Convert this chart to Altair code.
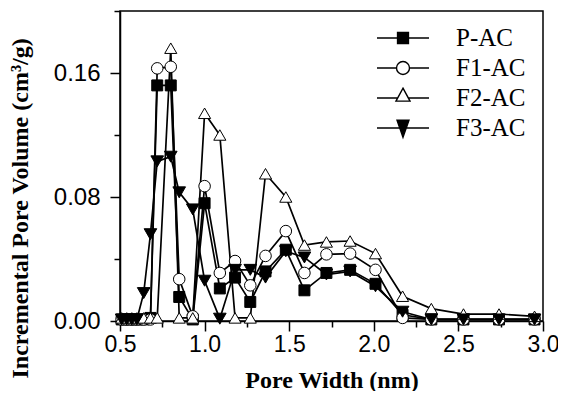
import altair as alt
import pandas as pd

# ---- data ----
pore_width = [0.51, 0.54, 0.57, 0.60, 0.64, 0.68, 0.72, 0.80, 0.85, 0.93, 1.00, 1.09,
              1.18, 1.27, 1.36, 1.48, 1.59, 1.72, 1.86, 2.01, 2.17, 2.34, 2.53, 2.74, 2.95]

p_ac = [0.001, 0.001, 0.001, 0.001, 0.001, 0.002, 0.152, 0.152, 0.0155, 0.001, 0.076, 0.021,
        0.028, 0.0123, 0.032, 0.046, 0.0198, 0.031, 0.033, 0.024, 0.004, 0.001, 0.001, 0.001, 0.001]
f1_ac = [0.001, 0.001, 0.001, 0.001, 0.001, 0.001, 0.163, 0.164, 0.027, 0.003, 0.087, 0.031,
         0.0387, 0.023, 0.042, 0.058, 0.031, 0.043, 0.0435, 0.033, 0.002, 0.001, 0.001, 0.001, 0.001]
f2_ac = [0.002, 0.002, 0.002, 0.002, 0.002, 0.002, 0.002, 0.176, 0.002, 0.002, 0.134, 0.120,
         0.002, 0.002, 0.095, 0.080, 0.049, 0.051, 0.0516, 0.0435, 0.016, 0.008, 0.0045, 0.0045, 0.003]
f3_ac = [0.001, 0.001, 0.001, 0.001, 0.018, 0.056, 0.103, 0.106, 0.083, 0.072, 0.026, 0.0015,
         0.033, 0.033, 0.028, 0.045, 0.041, 0.030, 0.032, 0.0224, 0.006, 0.001, 0.001, 0.001, 0.001]

series_names = ["P-AC", "F1-AC", "F2-AC", "F3-AC"]
x_ticks = [0.5, 0.75, 1.0, 1.25, 1.5, 1.75, 2.0, 2.25, 2.5, 2.75, 3.0]
y_ticks = [0.0, 0.04, 0.08, 0.12, 0.16, 0.2]

rows = []
for name, vals in zip(series_names, [p_ac, f1_ac, f2_ac, f3_ac]):
    for i, (xv, yv) in enumerate(zip(pore_width, vals)):
        rows.append({"series": name, "width": xv, "volume": yv, "order": i})
df = pd.DataFrame(rows)

serif = "Liberation Serif"
sans = "Liberation Sans"

plot_shapes = ["square", "circle", "triangle-up", "triangle-down"]
marker_sizes = [120, 160, 200, 170]
fills = ["black", "white", "white", "black"]
strokes = ["black", "black", "black", "black"]
legend_shapes = [
    "M-1,0H-0.21M0.21,0H1M-0.21,-0.21H0.21V0.21H-0.21Z",
    "M-1,0H-0.25M0.25,0H1M-0.25,0A0.25,0.25,0,1,1,0.25,0A0.25,0.25,0,1,1,-0.25,0Z",
    "M-1,0H-0.205M0.205,0H1M0,-0.38L0.27,0.12L-0.27,0.12Z",
    "M-1,0H1M0,0.36L0.23,-0.3L-0.23,-0.3Z",
]

x_axis = alt.Axis(
    values=x_ticks,
    labelExpr="round(datum.value*100) % 50 == 0 ? format(datum.value, '.1f') : ''",
    tickSize={"condition": {"test": "round(datum.value*100) % 50 == 0", "value": 10}, "value": 6},
    title="Pore Width (nm)",
    titleY=66,
    titleBaseline="alphabetic",
    titleFontSize=24,
    labelPadding=2,
    labelFlush=False,
    labelFontSize=23,
)
y_axis = alt.Axis(
    values=y_ticks,
    labelExpr="round(datum.value*100) % 8 == 0 ? format(datum.value, '.2f') : ''",
    tickSize={"condition": {"test": "round(datum.value*100) % 8 == 0", "value": 10}, "value": 6},
    title="Incremental Pore Volume (cm³/g)",
    titleAngle=270,
    titleAlign="left",
    titleBaseline="alphabetic",
    titleFontSize=24,
    titleX=-93,
    titleY=367,
    labelPadding=10,
    labelFontSize=24,
    labelFlush=False,
)

x_enc = alt.X("width:Q", scale=alt.Scale(domain=[0.5, 3.0], nice=False, zero=False), axis=x_axis)
y_enc = alt.Y("volume:Q", scale=alt.Scale(domain=[0, 0.2], nice=False), axis=y_axis)

base = alt.Chart(df)

lines = base.mark_line(color="black", strokeWidth=1.7).encode(
    x=x_enc, y=y_enc, detail="series:N", order="order:Q"
)

points = base.mark_point(filled=True, stroke="black", strokeWidth=1, opacity=1).encode(
    x=x_enc, y=y_enc,
    shape=alt.Shape("series:N", scale=alt.Scale(domain=series_names, range=plot_shapes), legend=None),
    fill=alt.Fill("series:N", scale=alt.Scale(domain=series_names, range=fills), legend=None),
    size=alt.Size("series:N", scale=alt.Scale(domain=series_names, range=marker_sizes), legend=None),
)

legend = alt.Legend(
    title=None, orient="none", legendX=256, legendY=12, padding=0,
    symbolSize=2704, clipHeight=30, rowPadding=0, labelOffset=26,
    labelFont=serif, labelFontSize=25, labelColor="black",
    symbolStrokeWidth=1.4, symbolOpacity=1,
)

legend_layer = base.mark_point(filled=True, strokeWidth=1.4, size=0).encode(
    x=x_enc, y=y_enc,
    shape=alt.Shape("series:N", scale=alt.Scale(domain=series_names, range=legend_shapes), legend=legend),
    fill=alt.Fill("series:N", scale=alt.Scale(domain=series_names, range=fills), legend=legend),
    stroke=alt.Stroke("series:N", scale=alt.Scale(domain=series_names, range=strokes), legend=legend),
)

chart = alt.layer(lines, points, legend_layer).resolve_scale(
    shape="independent", fill="independent", stroke="independent"
).resolve_legend(shape="independent", fill="independent", stroke="independent").properties(
    width=423, height=310,
    autosize=alt.AutoSizeParams(type="none"),
    padding={"left": 112, "top": 3, "right": 15, "bottom": 70},
    background="white",
).configure_view(
    stroke="black", strokeWidth=1.5
).configure_axis(
    grid=False, domainColor="black", domainWidth=1.5, tickColor="black", tickWidth=1.5,
    labelFont=sans, labelFontSize=22, labelColor="black",
    titleFont=serif, titleFontSize=22, titleFontWeight="bold", titleColor="black",
)

chart.save("out.html", embed_options={"renderer": "svg", "actions": False})
